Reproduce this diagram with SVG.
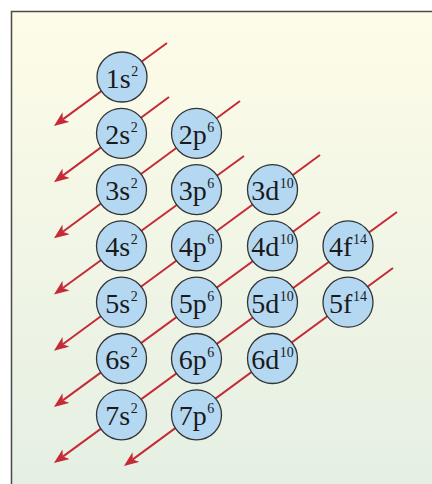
<svg xmlns="http://www.w3.org/2000/svg" width="432" height="484" viewBox="0 0 432 484">
<defs>
<linearGradient id="bg" x1="0" y1="0" x2="0" y2="1">
<stop offset="0" stop-color="#fefce8"/>
<stop offset="1" stop-color="#e4efe3"/>
</linearGradient>
<marker id="ah" markerUnits="userSpaceOnUse" markerWidth="16" markerHeight="12" viewBox="0 0 16 12" refX="4" refY="6" orient="auto">
<path d="M15,6 L0,0 L4,6 L0,12 Z" fill="#c62a36"/>
</marker>
<style>
.orb{fill:#b5d8f2;stroke:#333;stroke-width:1.3}
.lbl{font-family:"Liberation Serif","Times New Roman",serif;font-size:28px;fill:#1a1a1a;text-anchor:middle}
.sup{font-size:14px}
.arr{stroke:#c62a36;stroke-width:2;fill:none;marker-end:url(#ah)}
</style>
</defs>
<rect x="0" y="0" width="432" height="484" fill="#fff"/>
<rect x="11.5" y="11.5" width="430" height="480" fill="url(#bg)" stroke="#4a4a4a" stroke-width="1.5"/>
<g id="connectors">
<path class="arr" d="M167,43 L62.8,119.4"/>
<path class="arr" d="M169,97 L62.8,175.6"/>
<path class="arr" d="M240,101 L62.8,231.8"/>
<path class="arr" d="M244,156 L62.8,288"/>
<path class="arr" d="M320,155 L62.8,344.2"/>
<path class="arr" d="M320,212 L62.8,400.4"/>
<path class="arr" d="M397,212 L62.8,456.6"/>
<path class="arr" d="M393,268 L132.8,459.4"/>
</g>
<g id="n1s"><circle class="orb" cx="122" cy="77" r="25"/><text class="lbl" x="122" y="87.5">1s<tspan class="sup" dx="0.5" dy="-12">2</tspan></text></g>
<g id="n2s"><circle class="orb" cx="121.5" cy="133.3" r="25"/><text class="lbl" x="121.5" y="143.8">2s<tspan class="sup" dx="0.5" dy="-12">2</tspan></text></g>
<g id="n2p"><circle class="orb" cx="196.5" cy="133.3" r="25"/><text class="lbl" x="196.5" y="143.8">2p<tspan class="sup" dx="0.5" dy="-12">6</tspan></text></g>
<g id="n3s"><circle class="orb" cx="121.5" cy="189.6" r="25"/><text class="lbl" x="121.5" y="200.1">3s<tspan class="sup" dx="0.5" dy="-12">2</tspan></text></g>
<g id="n3p"><circle class="orb" cx="196.5" cy="189.6" r="25"/><text class="lbl" x="196.5" y="200.1">3p<tspan class="sup" dx="0.5" dy="-12">6</tspan></text></g>
<g id="n3d"><circle class="orb" cx="272.5" cy="189.6" r="25"/><text class="lbl" x="272.5" y="200.1">3d<tspan class="sup" dx="0.5" dy="-12">10</tspan></text></g>
<g id="n4s"><circle class="orb" cx="121.5" cy="245.9" r="25"/><text class="lbl" x="121.5" y="256.4">4s<tspan class="sup" dx="0.5" dy="-12">2</tspan></text></g>
<g id="n4p"><circle class="orb" cx="196.5" cy="245.9" r="25"/><text class="lbl" x="196.5" y="256.4">4p<tspan class="sup" dx="0.5" dy="-12">6</tspan></text></g>
<g id="n4d"><circle class="orb" cx="272.5" cy="245.9" r="25"/><text class="lbl" x="272.5" y="256.4">4d<tspan class="sup" dx="0.5" dy="-12">10</tspan></text></g>
<g id="n4f"><circle class="orb" cx="348" cy="245.9" r="25"/><text class="lbl" x="348" y="256.4">4f<tspan class="sup" dx="0.5" dy="-12">14</tspan></text></g>
<g id="n5s"><circle class="orb" cx="121.5" cy="302.2" r="25"/><text class="lbl" x="121.5" y="312.7">5s<tspan class="sup" dx="0.5" dy="-12">2</tspan></text></g>
<g id="n5p"><circle class="orb" cx="196.5" cy="302.2" r="25"/><text class="lbl" x="196.5" y="312.7">5p<tspan class="sup" dx="0.5" dy="-12">6</tspan></text></g>
<g id="n5d"><circle class="orb" cx="272.5" cy="302.2" r="25"/><text class="lbl" x="272.5" y="312.7">5d<tspan class="sup" dx="0.5" dy="-12">10</tspan></text></g>
<g id="n5f"><circle class="orb" cx="348" cy="302.2" r="25"/><text class="lbl" x="348" y="312.7">5f<tspan class="sup" dx="0.5" dy="-12">14</tspan></text></g>
<g id="n6s"><circle class="orb" cx="121.5" cy="358.5" r="25"/><text class="lbl" x="121.5" y="369">6s<tspan class="sup" dx="0.5" dy="-12">2</tspan></text></g>
<g id="n6p"><circle class="orb" cx="196.5" cy="358.5" r="25"/><text class="lbl" x="196.5" y="369">6p<tspan class="sup" dx="0.5" dy="-12">6</tspan></text></g>
<g id="n6d"><circle class="orb" cx="272.5" cy="358.5" r="25"/><text class="lbl" x="272.5" y="369">6d<tspan class="sup" dx="0.5" dy="-12">10</tspan></text></g>
<g id="n7s"><circle class="orb" cx="121.5" cy="414.8" r="25"/><text class="lbl" x="121.5" y="425.3">7s<tspan class="sup" dx="0.5" dy="-12">2</tspan></text></g>
<g id="n7p"><circle class="orb" cx="196.5" cy="414.8" r="25"/><text class="lbl" x="196.5" y="425.3">7p<tspan class="sup" dx="0.5" dy="-12">6</tspan></text></g>
</svg>
